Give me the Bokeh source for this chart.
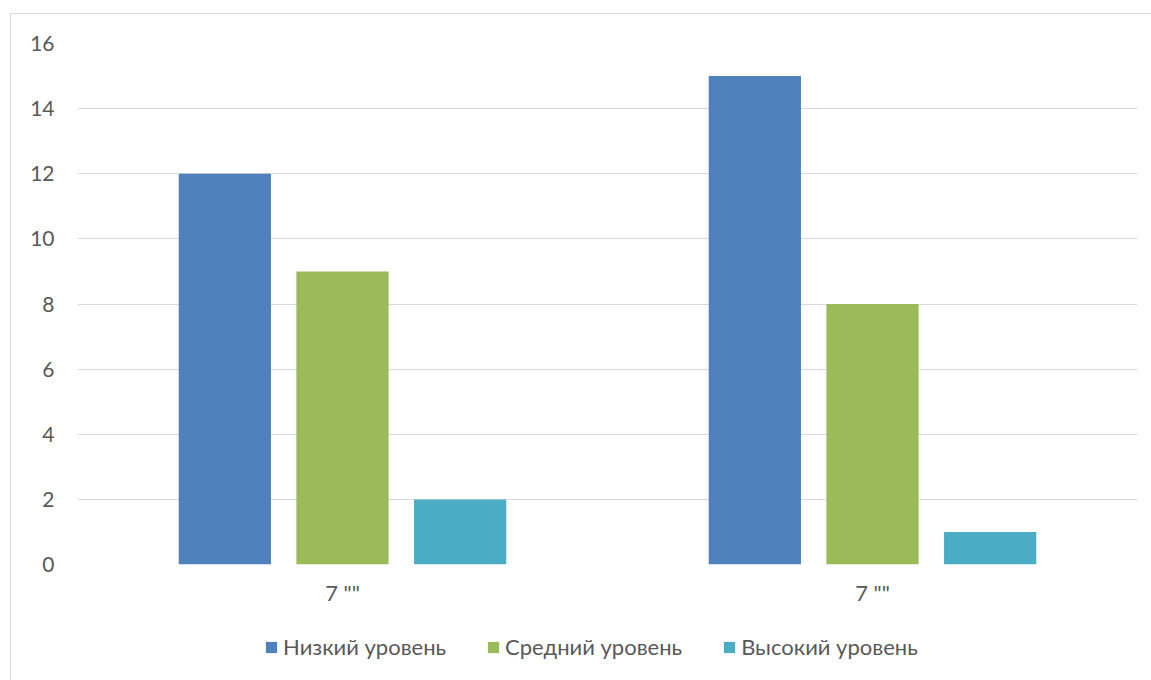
from bokeh.plotting import figure
from bokeh.layouts import column
from bokeh.models import Range1d, FixedTicker, Legend, LegendItem, ColumnDataSource
from bokeh.embed import file_html
from bokeh.resources import INLINE

# Data
categories = ['7 ""', '7 ""']
series_names = ["Низкий уровень", "Средний уровень", "Высокий уровень"]
low = [12, 15]
mid = [9, 8]
high = [2, 1]
y_ticks = [0, 2, 4, 6, 8, 10, 12, 14, 16]

colors = ["#4F81BD", "#9BBB59", "#4BACC6"]
offsets = [-0.222, 0.0, 0.222]
bar_width = 0.174
font = "Lato"
text_color = "#595959"

# Main bar chart
p = figure(
    width=1140, height=600,
    x_range=Range1d(0, len(categories)), y_range=Range1d(0, 16),
    output_backend="svg", toolbar_location=None,
    min_border_left=66, min_border_right=14, min_border_top=29, min_border_bottom=50,
)
p.outline_line_color = None
p.background_fill_color = "white"
p.border_fill_color = "white"

for vals, off, col in zip([low, mid, high], offsets, colors):
    src = ColumnDataSource(dict(x=[i + 0.5 + off for i in range(len(categories))], top=vals))
    p.vbar(x="x", top="top", width=bar_width, source=src, fill_color=col, line_color=None)

p.xaxis.ticker = FixedTicker(ticks=[i + 0.5 for i in range(len(categories))])
p.xaxis.major_label_overrides = {i + 0.5: c for i, c in enumerate(categories)}
p.xaxis.axis_line_color = None
p.xaxis.major_tick_line_color = None
p.xaxis.major_tick_out = 0
p.xaxis.minor_tick_line_color = None
p.xaxis.minor_tick_out = 0
p.xaxis.major_label_standoff = 14
p.xaxis.major_label_text_font = font
p.xaxis.major_label_text_font_size = "22px"
p.xaxis.major_label_text_color = text_color

p.yaxis.ticker = FixedTicker(ticks=y_ticks)
p.yaxis.axis_line_color = None
p.yaxis.major_tick_line_color = None
p.yaxis.major_tick_out = 0
p.yaxis.minor_tick_line_color = None
p.yaxis.minor_tick_out = 0
p.yaxis.major_label_standoff = 23
p.yaxis.major_label_text_font = font
p.yaxis.major_label_text_font_size = "21px"
p.yaxis.major_label_text_color = text_color

p.xgrid.grid_line_color = None
p.ygrid.grid_line_color = "#d9d9d9"
p.ygrid.grid_line_width = 1

# Legend strip below the chart (its frame lines up with the chart frame)
lg = figure(
    width=1140, height=66,
    x_range=Range1d(0, 1), y_range=Range1d(0, 1),
    output_backend="svg", toolbar_location=None,
    min_border=0,
)
lg.axis.visible = False
lg.grid.visible = False
lg.outline_line_color = None
lg.border_fill_color = "white"

# zero-height swatch holders: they only feed the legend its colours
items = []
for name, col in zip(series_names, colors):
    r = lg.vbar(x=[0.5], top=[0], bottom=[0], width=0.1, fill_color=col, line_color=None)
    items.append(LegendItem(label=name, renderers=[r]))

legend = Legend(
    items=items, orientation="horizontal", location=(187, 20),
    glyph_width=14, glyph_height=14, label_standoff=5, spacing=40,
    label_text_font=font, label_text_font_size="22px", label_text_color=text_color,
    border_line_color=None, background_fill_alpha=0, margin=0, padding=0,
)
lg.add_layout(legend, "center")

layout = column(p, lg, spacing=0, margin=(13, 0, 0, 10),
                styles={"border-left": "1px solid #d9d9d9", "border-top": "1px solid #d9d9d9"})

open("out.html", "w").write(file_html(layout, INLINE))
